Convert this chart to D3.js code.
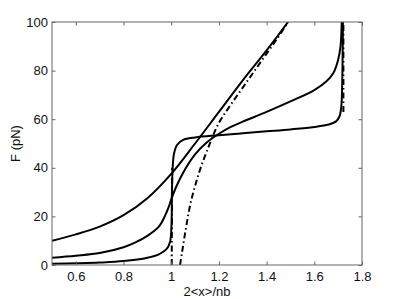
<!DOCTYPE html>
<html>
<head>
<meta charset="utf-8">
<script src="https://cdn.jsdelivr.net/npm/d3@7"></script>
<style>
  body { margin: 0; background: #fff; }
  text { font-family: "Liberation Sans", Arial, sans-serif; fill: #111; }
</style>
</head>
<body>
<svg width="399" height="299"></svg>
<script>
// ticks
var xTicks = [0.6, 0.8, 1, 1.2, 1.4, 1.6, 1.8]
var yTicks = [0, 20, 40, 60, 80, 100]

// solid curves, [2<x>/nb, F]
var curveSoft = [[0.5, 10], [0.6, 12.6], [0.7, 15.8], [0.8, 20.5], [0.9, 27.5], [1.0, 37.5],
  [1.1, 50], [1.2, 63], [1.3, 76], [1.4, 88.3], [1.49, 100]]
var curveMid = [[0.5, 3], [0.6, 3.8], [0.7, 4.9], [0.8, 7.3], [0.85, 9.3], [0.9, 12], [0.95, 16],
  [0.975, 20.5], [0.99, 24], [1.0, 27], [1.02, 32], [1.05, 38], [1.1, 45.5], [1.15, 50.5],
  [1.2, 54], [1.25, 56.8], [1.3, 59], [1.4, 63], [1.5, 67.3], [1.6, 72], [1.65, 75.5], [1.68, 79],
  [1.7, 84.5], [1.71, 90], [1.715, 100]]
var curveSharp = [[0.5, 0.5], [0.6, 0.7], [0.7, 1], [0.8, 1.6], [0.9, 3], [0.95, 4.5], [0.98, 6.5],
  [0.995, 9.5], [1.001, 16], [1.003, 30], [1.006, 40], [1.012, 46], [1.025, 49.5], [1.05, 51.5],
  [1.1, 52.5], [1.2, 53.4], [1.3, 54.2], [1.4, 55], [1.5, 55.8], [1.6, 56.8], [1.66, 57.8],
  [1.69, 59], [1.705, 61], [1.713, 65], [1.717, 75], [1.72, 100]]

// dash-dot curves
var limitDs = [[1.002, 0], [1.003, 20], [1.004, 40]]
var limitExt = [[1.037, 0], [1.045, 5], [1.058, 13], [1.08, 25], [1.1, 32.5], [1.12, 39],
  [1.15, 47], [1.2, 58.5], [1.25, 66], [1.3, 73], [1.35, 80], [1.4, 87], [1.45, 94], [1.49, 100]]
var limitSs = [[1.722, 63], [1.722, 100]]

var margin = {left: 52, right: 37, top: 22, bottom: 34}
var width = 399 - margin.left - margin.right
var height = 299 - margin.top - margin.bottom

var svg = d3.select('svg')
var g = svg.append('g').attr('transform', 'translate(' + margin.left + ',' + margin.top + ')')

var x = d3.scaleLinear().domain([0.5, 1.8]).range([0, width])
var y = d3.scaleLinear().domain([0, 100]).range([height, 0])

svg.append('clipPath').attr('id', 'clip')
  .append('rect').attr('width', width).attr('height', height)

var line = d3.line()
  .x(function (d) { return x(d[0]) })
  .y(function (d) { return y(d[1]) })
  .curve(d3.curveCatmullRom.alpha(0.5))

var plot = g.append('g').attr('clip-path', 'url(#clip)')

plot.selectAll('path.dd')
  .data([limitDs, limitExt, limitSs])
  .enter().append('path')
  .attr('class', 'dd')
  .attr('d', line)
  .attr('fill', 'none')
  .attr('stroke', 'black')
  .attr('stroke-width', 2)
  .attr('stroke-dasharray', '6,3,1.5,3')

plot.selectAll('path.solid')
  .data([curveSoft, curveMid, curveSharp])
  .enter().append('path')
  .attr('class', 'solid')
  .attr('d', line)
  .attr('fill', 'none')
  .attr('stroke', 'black')
  .attr('stroke-width', 2)

// axes, ticks pointing inward on all four sides
var tick = 3.5
var frameColor = '#666'

g.append('g')
  .attr('transform', 'translate(0,' + height + ')')
  .call(d3.axisBottom(x).tickValues(xTicks).tickSizeInner(-tick).tickSizeOuter(0).tickPadding(7)
    .tickFormat(function (d) { return d === 1 ? '1' : d3.format('.1f')(d) }))
g.append('g')
  .call(d3.axisTop(x).tickValues(xTicks).tickSizeInner(-tick).tickSizeOuter(0).tickFormat(''))
g.append('g')
  .call(d3.axisLeft(y).tickValues(yTicks).tickSizeInner(-tick).tickSizeOuter(0).tickPadding(4))
g.append('g')
  .attr('transform', 'translate(' + width + ',0)')
  .call(d3.axisRight(y).tickValues(yTicks).tickSizeInner(-tick).tickSizeOuter(0).tickFormat(''))

g.selectAll('.domain').attr('stroke', 'none')
g.selectAll('.tick line').attr('stroke', frameColor)
g.selectAll('.tick text').attr('font-size', 13).attr('fill', '#111')

g.append('rect')
  .attr('width', width).attr('height', height)
  .attr('fill', 'none').attr('stroke', frameColor).attr('stroke-width', 1)

svg.append('text')
  .attr('x', margin.left + width / 2).attr('y', 296)
  .attr('text-anchor', 'middle').attr('font-size', 13)
  .text('2<x>/nb')

svg.append('text')
  .attr('transform', 'translate(20,' + (margin.top + height / 2) + ') rotate(-90)')
  .attr('text-anchor', 'middle').attr('font-size', 13)
  .text('F (pN)')
</script>
</body>
</html>
